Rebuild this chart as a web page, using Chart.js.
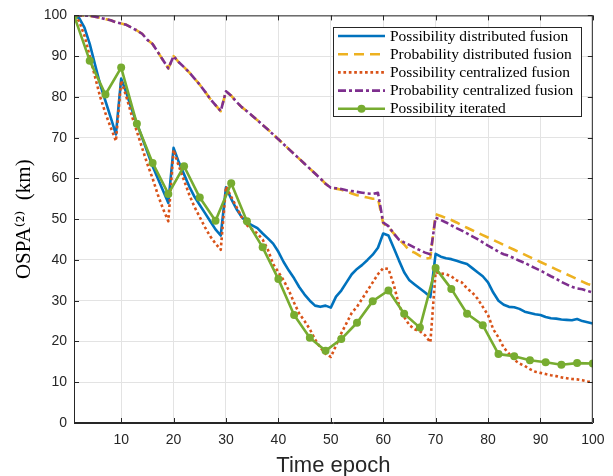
<!DOCTYPE html>
<html><head><meta charset="utf-8">
<script src="https://cdn.jsdelivr.net/npm/chart.js@4/dist/chart.umd.min.js"></script>
<style>html,body{margin:0;padding:0;background:#fff;}canvas{display:block;}</style>
</head><body>
<canvas id="c" width="613" height="476" style="width:613px;height:476px"></canvas>
<script>
// ---------- DATA ----------
const epochs = Array.from({length: 100}, (_, i) => i + 1);
const iterEpochs = [1,4,7,10,13,16,19,22,25,28,31,34,37,40,43,46,49,52,55,58,61,64,67,70,73,76,79,82,85,88,91,94,97,100];

const possDistributed = [
100,99.3,97,93,88,83,79,75,70.8,84.5,
81,77,73.5,70,66.5,63,60,57,54,67.5,
64,61,58,55.5,53.5,51.5,49.5,47.5,46,57.8,
55,52.5,50.5,49.2,48.5,47.8,46.5,45.3,44,42,
39.5,37.4,35.5,33.3,31.5,30,28.8,28.5,28.8,28.3,
31,32.5,34.5,36.5,37.8,38.8,40,41.3,43,46.5,
46,43,39.9,37,35,34,33,32,30.9,41.5,
40.8,40.4,40.2,39.8,39.4,39,38,37,36,34.5,
32,30,29,28.5,28.4,28,27.3,27,26.7,26.5,
26,25.7,25.6,25.4,25.3,25.2,25.5,25,24.7,24.4];

const probDistributed = [
100,100,100,99.9,99.7,99.4,99.1,98.8,98.3,98,
97.7,97,96.3,95.5,94,93,91,89,87,90,
88.5,87.3,86,84.5,83,81.3,79.5,78,76.5,81.4,
80.3,78.8,77.5,76.5,75.4,74.3,73.1,72,70.8,69.6,
68.4,67.2,66,64.8,63.6,62.4,61.2,60,58.7,57.6,
57.5,57.2,56.8,56.3,55.9,55.6,55.3,55,55.1,49,
48,46.5,45,43.8,42.3,41.8,41,40.3,40.5,51.2,
50.8,50.3,49.8,49.2,48.5,47.9,47.3,46.7,46.1,45.5,
44.9,44.3,43.7,43.1,42.5,41.9,41.3,40.7,40.1,39.5,
38.9,38.3,37.7,37.1,36.5,35.9,35.3,34.7,34.1,33.7];

const possCentralized = [
100,98.5,95,90,85,80,76,72.5,69.2,84,
80,75.5,71.5,67.5,63.5,60,56,52.5,49.5,67,
63,59.5,56,53,50.5,48,45.8,44,42.5,58,
55.5,53,50.5,48.5,47.5,46.5,45,42.5,39,37,
35,32.5,29.5,26.8,25,23,20.5,18.5,17,16.2,
19,22,24.5,27,28.5,30.5,32.5,34.5,36.5,38,
37.8,34,29,26,24,23,22.5,21.5,19.8,37,
36.7,36.5,36,35,34.5,33,32,30.5,28.5,26.5,
23,21,18.5,17,15.5,14.6,14,13.2,12.6,12.3,
12,11.7,11.5,11.2,11,10.8,10.7,10.5,10.2,10];

const probCentralized = [
100,100,100,99.9,99.7,99.4,99.1,98.8,98.3,98,
97.7,97,96.3,95.5,94,93,91,89,87,90,
88.5,87.3,86,84.5,83,81.3,79.5,78,76.5,81.4,
80.3,78.8,77.5,76.5,75.4,74.3,73.1,72,70.8,69.6,
68.4,67.2,66,64.8,63.6,62.4,61.2,60,58.7,57.7,
57.6,57.4,57.1,56.9,56.7,56.5,56.3,56.2,56.5,49.2,
48.3,46.5,45,44.3,43.7,43,42.4,41.8,41.4,50.4,
49.8,49.2,48.5,47.8,47.2,46.5,45.8,45.1,44.3,43.5,
42.8,42,41.4,41,40.4,39.8,39.3,38.6,38,37.4,
36.7,36,35.4,34.6,34,33.4,33,32.8,32.4,32];

const possIterated = [100,88.9,80.6,87.2,73.4,63.8,56.2,63,55.3,49.6,58.8,49.5,43.1,35.3,26.5,20.9,17.7,20.6,24.6,29.9,32.5,26.8,23.4,38,32.9,26.8,24,16.9,16.4,15.4,14.9,14.3,14.7,14.6];

const seriesLabels = ['Possibility distributed fusion','Probability distributed fusion','Possibility centralized fusion','Probability centralized fusion','Possibility iterated'];
const xTickValues = [10,20,30,40,50,60,70,80,90,100];
const yTickValues = [0,10,20,30,40,50,60,70,80,90,100];
const xTitle = 'Time epoch';
const yTitle = 'OSPA\u207D\u00B2\u207E\u2002(km)';

// ---------- STYLE ----------
const C_BLUE='#0072BD', C_ORANGE='#EDB120', C_RED='#D95319', C_PURPLE='#7E2F8E', C_GREEN='#77AC30';
const AXIS='#262626', GRID='#e3e3e3';
const pts = (xs, ys) => xs.map((x, i) => ({x, y: ys[i]}));

const styles = [
  {color:C_BLUE, dash:[], width:2.6, marker:false},
  {color:C_ORANGE, dash:[10,6], width:2.6, marker:false},
  {color:C_RED, dash:[2.7,2.7], width:2.6, marker:false},
  {color:C_PURPLE, dash:[8,3,3,3], width:2.6, marker:false},
  {color:C_GREEN, dash:[], width:2.6, marker:true}
];

const datasets = [
  {label:seriesLabels[0], data:pts(epochs,possDistributed), order:5},
  {label:seriesLabels[1], data:pts(epochs,probDistributed), order:4},
  {label:seriesLabels[2], data:pts(epochs,possCentralized), order:3},
  {label:seriesLabels[3], data:pts(epochs,probCentralized), order:2},
  {label:seriesLabels[4], data:pts(iterEpochs,possIterated), order:1}
].map((d, i) => Object.assign(d, {
  borderColor: styles[i].color,
  backgroundColor: styles[i].color,
  borderWidth: styles[i].width,
  borderDash: styles[i].dash,
  borderCapStyle: 'butt',
  borderJoinStyle: 'round',
  pointRadius: styles[i].marker ? 4 : 0,
  pointBorderWidth: 0,
  pointHoverRadius: 0,
  tension: 0,
  fill: false
}));

const framePlugin = {
  id: 'frame',
  afterDraw(chart) {
    const {ctx, chartArea: a, scales} = chart;
    ctx.save();
    ctx.strokeStyle = AXIS;
    ctx.lineWidth = 1;
    ctx.setLineDash([]);
    ctx.beginPath();
    ctx.rect(a.left + 0.5, a.top + 0.5, a.right - a.left - 1, a.bottom - a.top - 1);
    ctx.stroke();
    const tl = 5;
    ctx.beginPath();
    xTickValues.forEach(v => {
      const x = Math.round(scales.x.getPixelForValue(v)) + 0.5;
      ctx.moveTo(x, a.bottom); ctx.lineTo(x, a.bottom - tl);
      ctx.moveTo(x, a.top); ctx.lineTo(x, a.top + tl);
    });
    yTickValues.forEach(v => {
      const y = Math.round(scales.y.getPixelForValue(v)) + 0.5;
      ctx.moveTo(a.left, y); ctx.lineTo(a.left + tl, y);
      ctx.moveTo(a.right, y); ctx.lineTo(a.right - tl, y);
    });
    ctx.stroke();

    // legend
    const L = 333.5, T = 27.5, R = 581.5, B = 116.5;
    ctx.fillStyle = '#fff';
    ctx.fillRect(L, T, R - L, B - T);
    ctx.strokeStyle = AXIS;
    ctx.lineWidth = 1;
    ctx.strokeRect(L, T, R - L, B - T);
    ctx.font = '15.5px "Liberation Serif", "DejaVu Serif", serif';
    ctx.textBaseline = 'middle';
    ctx.textAlign = 'left';
    const rowY0 = 36, rowH = 18.2;
    seriesLabels.forEach((lab, i) => {
      const y = rowY0 + i * rowH;
      const s = styles[i];
      ctx.strokeStyle = s.color;
      ctx.lineWidth = s.width;
      ctx.setLineDash(s.dash);
      ctx.lineCap = 'butt';
      ctx.beginPath();
      ctx.moveTo(338, y); ctx.lineTo(385, y);
      ctx.stroke();
      if (s.marker) {
        ctx.fillStyle = s.color;
        ctx.beginPath(); ctx.arc(361.5, y, 4, 0, Math.PI * 2); ctx.fill();
      }
      ctx.setLineDash([]);
      ctx.fillStyle = '#000';
      ctx.fillText(lab, 390, y + 0.5);
    });
    ctx.restore();
  }
};

new Chart(document.getElementById('c'), {
  type: 'line',
  data: {datasets},
  options: {
    responsive: false,
    devicePixelRatio: 1,
    animation: false,
    events: [],
    layout: {padding: {left: 0, top: 14, right: 20, bottom: 0}},
    plugins: {legend: {display: false}, tooltip: {enabled: false}},
    scales: {
      x: {
        type: 'linear', min: 1, max: 100,
        afterBuildTicks: s => { s.ticks = xTickValues.map(v => ({value: v})); },
        afterFit: s => { s.height = 53; },
        grid: {color: GRID, lineWidth: 1, drawTicks: false},
        border: {color: AXIS, width: 1},
        ticks: {color: AXIS, padding: 8.5, maxRotation: 0, autoSkip: false,
                font: {family: '"Liberation Sans", Arial, sans-serif', size: 14}},
        title: {display: true, text: xTitle, color: AXIS, padding: {top: 0, bottom: 0},
                font: {family: '"Liberation Sans", Arial, sans-serif', size: 22, lineHeight: 0.9}}
      },
      y: {
        type: 'linear', min: 0, max: 100,
        afterBuildTicks: s => { s.ticks = yTickValues.map(v => ({value: v})); },
        afterFit: s => { s.width = 74; },
        grid: {color: GRID, lineWidth: 1, drawTicks: false},
        border: {color: AXIS, width: 1},
        ticks: {color: AXIS, padding: 7, autoSkip: false,
                font: {family: '"Liberation Sans", Arial, sans-serif', size: 14}},
        title: {display: true, text: yTitle, color: '#000', padding: {top: 11.5, bottom: 0},
                font: {family: '"Liberation Serif", "DejaVu Serif", serif', size: 21, lineHeight: 1.2}}
      }
    }
  },
  plugins: [framePlugin]
});
</script>
</body></html>
